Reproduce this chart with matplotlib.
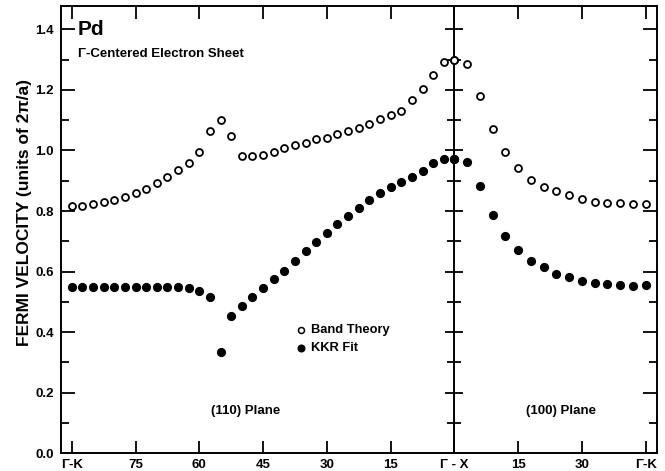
import numpy as np
import matplotlib
matplotlib.use('Agg')
import matplotlib.pyplot as plt
from matplotlib.ticker import MultipleLocator, FormatStrFormatter

plt.rcParams['font.family'] = ['Liberation Sans', 'DejaVu Sans']
plt.rcParams['font.weight'] = 'bold'

# (110) plane, angle from Gamma-X (deg), Gamma-K at 90
ang_110 = [90, 87.5, 85, 82.5, 80, 77.5, 75, 72.5, 70, 67.5, 65, 62.5, 60,
           57.5, 55, 52.5, 50, 47.5, 45, 42.5, 40, 37.5, 35, 32.5, 30, 27.5,
           25, 22.5, 20, 17.5, 15, 12.5, 10, 7.5, 5, 2.5, 0]
band_110 = [0.818, 0.818, 0.823, 0.830, 0.838, 0.847, 0.859, 0.874, 0.894,
            0.912, 0.935, 0.960, 0.996, 1.065, 1.100, 1.049, 0.983, 0.980,
            0.986, 0.994, 1.007, 1.017, 1.026, 1.037, 1.042, 1.054, 1.064,
            1.075, 1.087, 1.103, 1.116, 1.131, 1.166, 1.202, 1.250, 1.292,
            1.297]
kkr_110 = [0.548, 0.548, 0.548, 0.549, 0.550, 0.549, 0.549, 0.550, 0.550,
           0.549, 0.548, 0.545, 0.537, 0.515, 0.335, 0.454, 0.485, 0.516,
           0.546, 0.576, 0.603, 0.635, 0.667, 0.697, 0.727, 0.756, 0.784,
           0.810, 0.836, 0.859, 0.878, 0.895, 0.913, 0.932, 0.958, 0.972,
           0.973]

# (100) plane, angle from Gamma-X (deg), Gamma-K at 45
ang_100 = [0, 3, 6, 9, 12, 15, 18, 21, 24, 27, 30, 33, 36, 39, 42, 45]
band_100 = [1.297, 1.284, 1.179, 1.071, 0.996, 0.943, 0.904, 0.879, 0.867,
            0.852, 0.839, 0.831, 0.828, 0.826, 0.824, 0.823]
kkr_100 = [0.973, 0.961, 0.882, 0.786, 0.719, 0.672, 0.636, 0.614, 0.593,
           0.581, 0.568, 0.563, 0.560, 0.556, 0.554, 0.556]

tick_pos = [0, 15, 30, 45, 60, 75, 90, 105, 120, 135]
tick_lab = ['Γ-K', '75', '60', '45', '30', '15', 'Γ - X', '15', '30', 'Γ-K']

fig = plt.figure(figsize=(6.65, 4.71), dpi=100)
ax = fig.add_axes([0.0917, 0.0376, 0.8958, 0.9497])

# put both planes on one axis: Gamma-X sits at 90
x110 = 90 - np.array(ang_110)
x100 = 90 + np.array(ang_100)

ax.set_xlim(-2.56, 137.6)
ax.set_ylim(0, 1.477)

# middle divider with ticks on both sides
ax.axvline(90, color='black', lw=1.4, zorder=1)
ymaj = [0.2, 0.4, 0.6, 0.8, 1.0, 1.2, 1.4]
ymin = [0.1, 0.3, 0.5, 0.7, 0.9, 1.1, 1.3]
ax.plot([90] * len(ymaj), ymaj, marker='_', ms=13, mew=1.3, color='black', ls='none', zorder=1)
ax.plot([90] * len(ymin), ymin, marker='_', ms=9.5, mew=1.3, color='black', ls='none', zorder=1)

ax.plot(x110, band_110, 'o', ms=5, mfc='white', mec='black', mew=1.3, ls='none', zorder=3)
ax.plot(x100, band_100, 'o', ms=5, mfc='white', mec='black', mew=1.3, ls='none', zorder=3)
ax.plot(x110, kkr_110, 'o', ms=5.6, color='black', ls='none', zorder=3)
ax.plot(x100, kkr_100, 'o', ms=5.6, color='black', ls='none', zorder=3)

ax.set_xticks(tick_pos)
ax.set_xticklabels(tick_lab)
ax.yaxis.set_major_locator(MultipleLocator(0.2))
ax.yaxis.set_minor_locator(MultipleLocator(0.1))
ax.yaxis.set_major_formatter(FormatStrFormatter('%.1f'))
ax.tick_params(axis='both', which='major', direction='in', length=9, width=1.3,
               labelsize=9.5, top=True, right=True, pad=4)
ax.tick_params(axis='y', which='minor', direction='in', length=6, width=1.3, right=True)
ax.tick_params(axis='y', which='major', length=10, pad=5)
for s in ax.spines.values():
    s.set_linewidth(1.4)

ax.set_ylabel('FERMI VELOCITY (units of 2π/a)', fontsize=12.5, fontweight='bold')
ax.yaxis.set_label_coords(-0.049, 0.538)

ax.text(1.4, 1.40, 'Pd', fontsize=15, fontweight='bold', va='center')
ax.text(1.4, 1.318, 'Γ-Centered Electron Sheet', fontsize=9.5, fontweight='bold', va='center')
ax.text(41, 0.14, '(110) Plane', fontsize=9.5, fontweight='bold', ha='center', va='center')
ax.text(115, 0.14, '(100) Plane', fontsize=9.5, fontweight='bold', ha='center', va='center')

# legend drawn by hand
ax.plot([54.0], [0.408], 'o', ms=4.3, mfc='white', mec='black', mew=1.1)
ax.plot([54.0], [0.348], 'o', ms=4.8, color='black')
ax.text(56.3, 0.408, 'Band Theory', fontsize=9.3, fontweight='bold', va='center')
ax.text(56.3, 0.348, 'KKR Fit', fontsize=9.3, fontweight='bold', va='center')

fig.savefig('out.png', dpi=100)
